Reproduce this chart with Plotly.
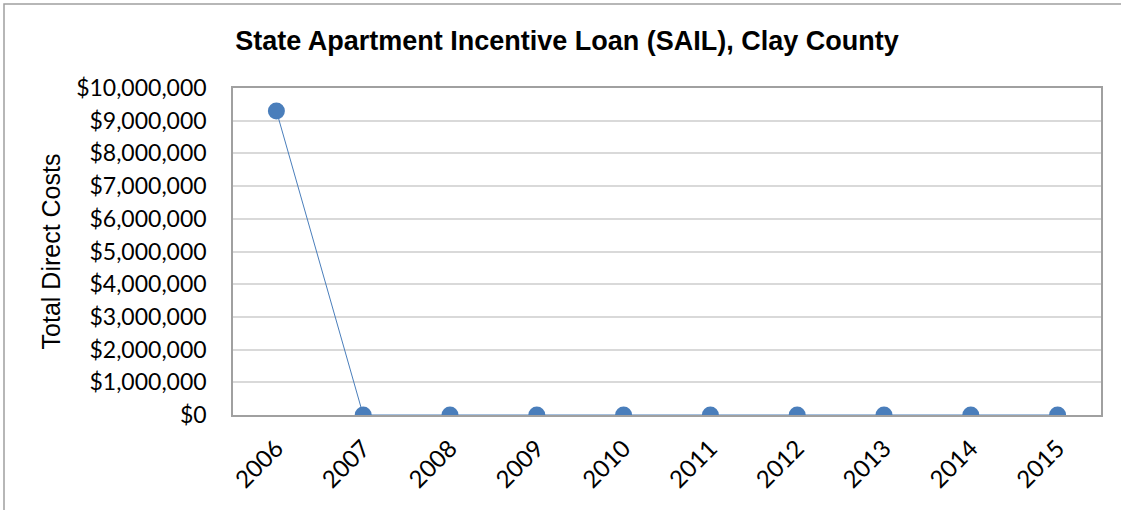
import plotly.graph_objects as go

years = ["2006", "2007", "2008", "2009", "2010", "2011", "2012", "2013", "2014", "2015"]
costs = [9300000, 0, 0, 0, 0, 0, 0, 0, 0, 0]
y_ticks = list(range(0, 10000001, 1000000))
y_labels = ["$" + format(v, ",") for v in y_ticks]

fig = go.Figure()
fig.add_trace(go.Scatter(
    x=years, y=costs, mode="lines+markers",
    line=dict(color="#4a7ebb", width=1),
    marker=dict(color="#4a7ebb", size=17),
    cliponaxis=True,
))

L, R, T, B = 233, 20, 88, 95
W, H = 1121, 510
pw, ph = W - L - R, H - T - B

fig.update_layout(
    width=W, height=H,
    margin=dict(l=L, r=R, t=T, b=B, pad=0),
    paper_bgcolor="white", plot_bgcolor="white",
    showlegend=False,
    title=dict(text="<b>State Apartment Incentive Loan (SAIL), Clay County</b>",
               x=567 / W, xanchor="center", y=1 - 41 / H, yanchor="middle",
               font=dict(family="Arial, Liberation Sans", size=27, color="black")),
    font=dict(family="Lato", size=23, color="black"),
    xaxis=dict(type="category", range=[-0.5, 9.5], tickangle=-45,
               showgrid=False, showline=True, linecolor="#a0a0a0", linewidth=1.5,
               mirror=True, ticks="", ticklabelstandoff=8,
               tickfont=dict(family="Lato", size=24)),
    yaxis=dict(range=[0, 10000000], tickvals=y_ticks, ticktext=y_labels,
               showgrid=True, gridcolor="#d9d9d9", gridwidth=1.5,
               showline=True, linecolor="#a0a0a0", linewidth=1.5, mirror=True,
               ticks="", ticklen=0, zeroline=False, ticklabelstandoff=20,
               title=dict(text="Total Direct Costs", standoff=8,
                          font=dict(family="Arial, Liberation Sans", size=25)),
               tickfont=dict(family="Lato", size=23)),
    shapes=[dict(type="rect", xref="paper", yref="paper",
                 x0=(4 - L) / pw, x1=1 + (R + 20) / pw,
                 y0=-(B + 20) / ph, y1=1 + (T - 4) / ph,
                 line=dict(color="#a0a0a0", width=1.5), layer="below")],
)

fig.write_html("out.html", config={"displayModeBar": False},
               post_script="document.body.style.margin='0';")
